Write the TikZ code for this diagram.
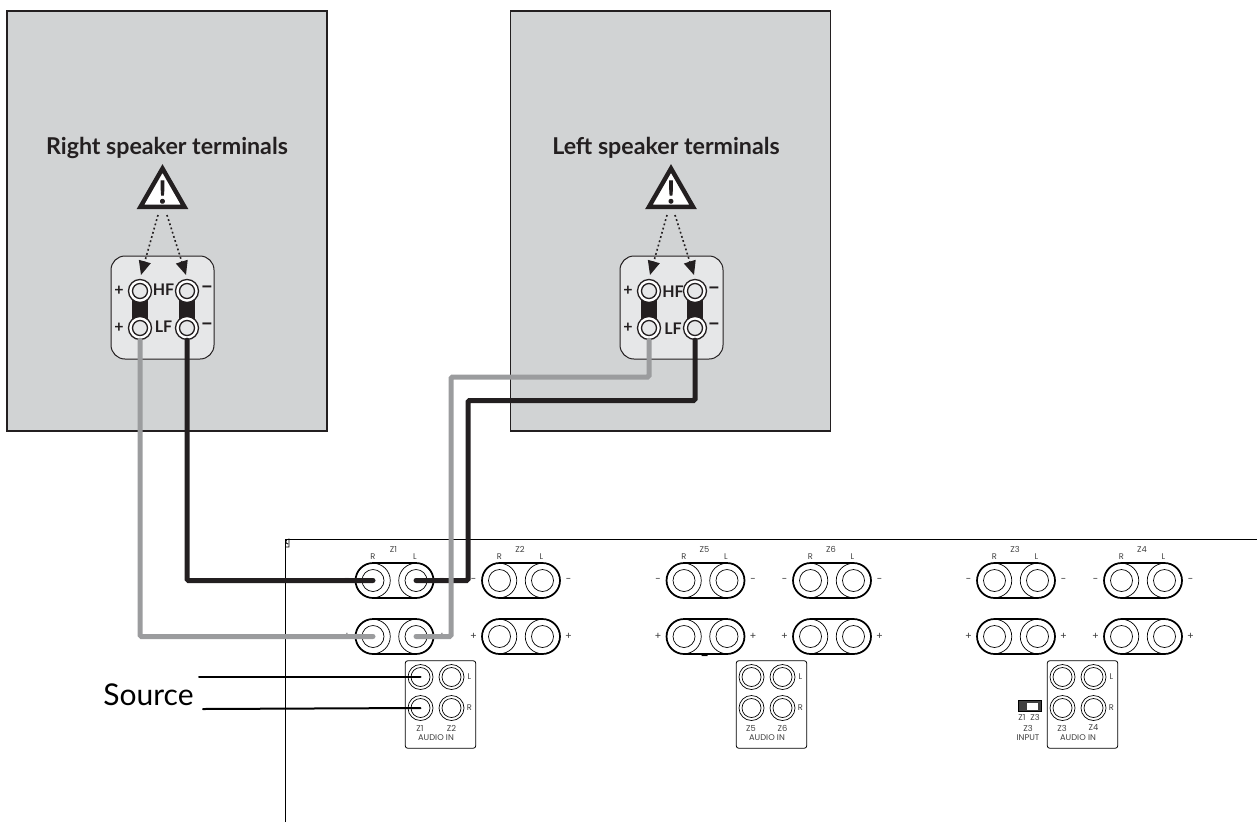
\documentclass[tikz,border=0pt]{standalone}
\usepackage{xcolor}
\usepackage{fontspec}
\usepackage{tikz}
\usetikzlibrary{arrows.meta}
\setmainfont{Lato}
\newfontfamily\panelfont{Poppins}
\newfontfamily\bangfont[FakeBold=3]{Lato}

\definecolor{cabinetgray}{HTML}{D1D3D4}
\definecolor{plategray}{HTML}{E6E7E8}
\definecolor{wiregray}{HTML}{9B9C9E}
\definecolor{wireblack}{HTML}{231F20}

\tikzset{
    cabinet/.style={draw=wireblack,fill=cabinetgray,line width=1.8pt,minimum width=320pt,minimum height=420pt,inner sep=0pt},
    plate/.style={draw=wireblack,fill=plategray,line width=1pt,rounded corners=14pt,minimum size=103pt,inner sep=0pt},
    heading/.style={font=\fontsize{23.2}{26}\selectfont\bfseries,text=wireblack,inner sep=0pt},
    plateword/.style={font=\fontsize{16}{18}\selectfont\bfseries,text=wireblack,inner sep=0pt},
    platedash/.style={font=\fontsize{22}{22}\selectfont\bfseries,text=wireblack,inner sep=0pt},
    postouter/.style={circle,draw=wireblack,fill=white,line width=1.3pt,minimum size=23pt,inner sep=0pt},
    postinner/.style={circle,draw=wireblack,fill=plategray,line width=1.3pt,minimum size=15pt,inner sep=0pt},
    strap/.style={draw=wireblack,line width=16pt},
    warn/.style={draw=wireblack,fill=white,line width=4.4pt,miter limit=10},
    bang/.style={font=\bangfont\fontsize{31}{31}\selectfont,text=wireblack,inner sep=0pt},
    hint/.style={draw=wireblack,line width=1.6pt,dash pattern=on 1.8pt off 2.6pt,-{Triangle[length=14pt,width=12pt]}},
    pill/.style={draw=black,line width=1.7pt,fill=white,rounded corners=17.5pt,minimum width=78pt,minimum height=35pt,inner sep=0pt},
    ring/.style={circle,draw=black,line width=0.7pt,inner sep=0pt},
    inbox/.style={draw=black,line width=0.8pt,rounded corners=2.5pt,minimum width=70.5pt,minimum height=87.5pt,inner sep=0pt},
    tiny/.style={font=\panelfont\fontsize{8.3}{9}\selectfont,text=black!75,inner sep=0pt},
    tinymark/.style={font=\panelfont\fontsize{10}{10}\selectfont,text=black!75,inner sep=0pt},
    graywire/.style={draw=wiregray,line width=5pt,line cap=round,rounded corners=1.5pt},
    blackwire/.style={draw=wireblack,line width=5pt,line cap=round,rounded corners=1.5pt},
    srcwire/.style={draw=black,line width=2pt,line cap=round},
    chassis/.style={draw=black,line width=0.8pt}
}

% speaker terminals, #1 is r or l, #2 #3 the + and - columns
\newcommand{\posts}[3]{
    \draw[strap] (#2,291) -- (#2,328);
    \draw[strap] (#3,291) -- (#3,328);
    \foreach \col/\cx in {p/#2,m/#3}{
        \node[postouter] (#1HF\col) at (\cx,291) {};
        \node[postinner] (#1HF\col i) at (\cx,291) {};
        \node[postouter] (#1LF\col) at (\cx,328) {};
        \node[postinner] (#1LF\col i) at (\cx,328) {};
    }
}

% pair of binding posts with its minus and plus marks
\newcommand{\pillpair}[3]{
    \node[pill] (#1) at (#2,#3) {};
    \node[ring,minimum size=34.5pt] (#1R) at (#2-21.5,#3) {};
    \node[ring,minimum size=22pt] (#1Ri) at (#2-21.5,#3) {};
    \node[ring,minimum size=34.5pt] (#1L) at (#2+21.5,#3) {};
    \node[ring,minimum size=22pt] (#1Li) at (#2+21.5,#3) {};
}

% audio in panel
\newcommand{\inpanel}[4]{
    \node[inbox] (#1) at (#2,704.5) {};
    \foreach \row/\ry in {L/677,R/708}{
        \node[ring,minimum size=25pt] (#1a\row) at (#2-20,\ry) {};
        \node[ring,minimum size=19pt] (#1a\row i) at (#2-20,\ry) {};
        \node[ring,minimum size=25pt] (#1b\row) at (#2+11,\ry) {};
        \node[ring,minimum size=19pt] (#1b\row i) at (#2+11,\ry) {};
        \node[tiny] (#1t\row) at (#2+29,\ry) {\row};
    }
    \node[tiny] (#1za) at (#2-20.5,728) {#3};
    \node[tiny] (#1zb) at (#2+11,728) {#4};
    \node[tiny] (#1ain) at (#2-4.5,738) {AUDIO IN};
}

\begin{document}
\begin{tikzpicture}[x=1pt,y=-1pt]
    \useasboundingbox (0,0) rectangle (1257,822);

    % cabinets
    \node[cabinet] (rcab) at (167,221) {};
    \node[cabinet] (lcab) at (670.5,221) {};
    \node[heading] (rhead) at (167,148) {Right speaker terminals};
    \node[heading] (lhead) at (666,148) {Left speaker terminals};

    % warning signs
    \draw[warn] (162.5,168.5) -- (184.5,206.8) -- (140.5,206.8) -- cycle;
    \draw[warn] (671,168.5) -- (693,206.8) -- (649,206.8) -- cycle;
    \node[bang] (rbang) at (162.5,192) {!};
    \node[bang] (lbang) at (671,192) {!};

    % plates
    \node[plate] (rplate) at (162.5,307.5) {};
    \node[plate] (lplate) at (671.5,307.5) {};
    \posts{r}{140}{187}
    \posts{l}{649}{695}

    \coordinate (rhinta) at (158,215);
    \coordinate (rhintb) at (167,215);
    \coordinate (lhinta) at (667,215);
    \coordinate (lhintb) at (675,215);
    \coordinate (rtipa) at (141,275);
    \coordinate (rtipb) at (186,275);
    \coordinate (ltipa) at (650,275);
    \coordinate (ltipb) at (694,275);
    \draw[hint] (rhinta) -- (rtipa);
    \draw[hint] (rhintb) -- (rtipb);
    \draw[hint] (lhinta) -- (ltipa);
    \draw[hint] (lhintb) -- (ltipb);

    \node[plateword] (rhf) at (163.5,289.5) {HF};
    \node[plateword] (rlf) at (163.5,326.5) {LF};
    \node[plateword] (lhf) at (673,292) {HF};
    \node[plateword] (llf) at (673,329) {LF};
    \node[plateword] (rpa) at (119,291) {+};
    \node[plateword] (rpb) at (119,328) {+};
    \node[platedash] (rma) at (207,290) {--};
    \node[platedash] (rmb) at (207,327) {--};
    \node[plateword] (lpa) at (628,291) {+};
    \node[plateword] (lpb) at (628,328) {+};
    \node[platedash] (lma) at (714,291) {--};
    \node[platedash] (lmb) at (714,327) {--};

    % amplifier back panel
    \coordinate (chassisa) at (285,822);
    \coordinate (chassisb) at (285,539);
    \coordinate (chassisc) at (1257,539);
    \draw[chassis] (chassisa) -- (chassisb) -- (chassisc);
    \draw[chassis] (285,547) -- (289,547) -- (289,539) .. controls (285,539) and (285,544) .. (288,544);

    \foreach \zone/\zx/\zn in {za/394.5/Z1,zb/521/Z2,ze/705.5/Z5,zf/832/Z6,zc/1016/Z3,zd/1143/Z4}{
        \pillpair{\zone m}{\zx}{580.5}
        \pillpair{\zone p}{\zx}{636.5}
        \node[tiny] (\zone name) at (\zx-1,549.5) {\zn};
        \node[tiny] (\zone r) at (\zx-21.5,557) {R};
        \node[tiny] (\zone l) at (\zx+20.5,557) {L};
        \node[tinymark] (\zone ma) at (\zx-47.5,580.5) {-};
        \node[tinymark] (\zone mb) at (\zx+47.5,580.5) {-};
        \node[tinymark] (\zone pa) at (\zx-47.5,636.5) {+};
        \node[tinymark] (\zone pb) at (\zx+47.5,636.5) {+};
    }
    \node[tinymark,font=\panelfont\fontsize{15}{15}\selectfont,text=black] (zebar) at (705,658) {-};

    \inpanel{ina}{440.5}{Z1}{Z2}
    \inpanel{inb}{771.5}{Z5}{Z6}
    \inpanel{inc}{1082.5}{Z3}{Z4}

    % input switch
    \node[draw=black,fill=black!75,line width=0.8pt,minimum width=23pt,minimum height=11pt,inner sep=0pt] (swbody) at (1029.5,706) {};
    \node[fill=white,minimum width=11pt,minimum height=7pt,inner sep=0pt] (swknob) at (1032.5,706) {};
    \node[tiny] (swa) at (1022,717.5) {Z1};
    \node[tiny] (swb) at (1035,717.5) {Z3};
    \node[tiny] (swc) at (1028,728) {Z3};
    \node[tiny] (swd) at (1028,738) {INPUT};

    % wires
    \draw[blackwire] (lLFm.south) |- (468,400.5) |- (zamL.center);
    \draw[graywire] (lLFp.south) |- (451,377) |- (zapL.center);
    \draw[graywire] (rLFp.south) |- (zapR.center);
    \draw[blackwire] (rLFm.south) |- (zamR.center);

    % source
    \node[font=\fontsize{30}{32}\selectfont,inner sep=0pt] (src) at (148.5,695) {Source};
    \coordinate (srca) at (199,677);
    \coordinate (srcb) at (203,709);
    \draw[srcwire] (srca) -- (inaaL.center);
    \draw[srcwire] (srcb) -- (inaaR.center);
\end{tikzpicture}
\end{document}
